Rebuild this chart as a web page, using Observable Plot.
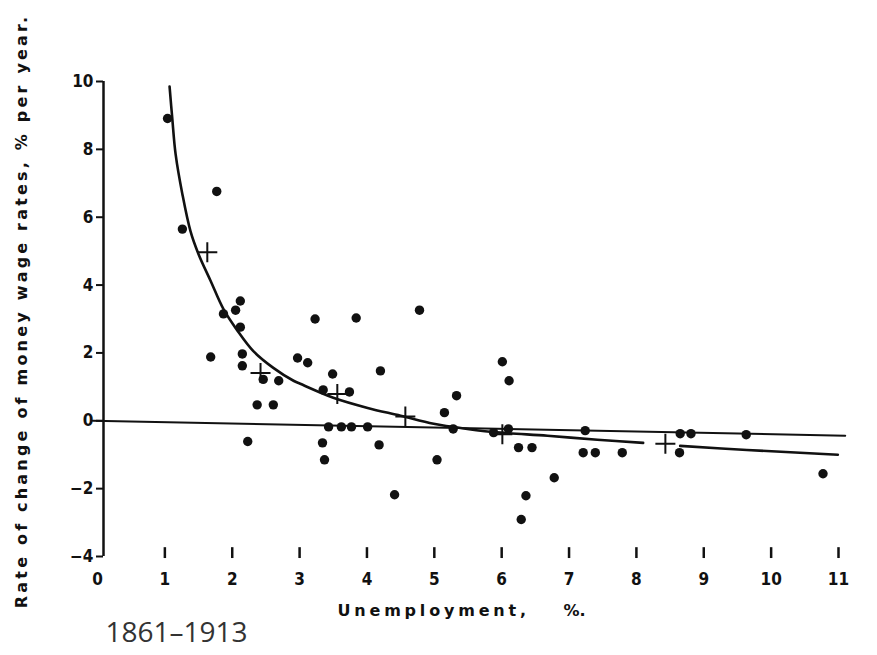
<!DOCTYPE html>
<html><head><meta charset="utf-8">
<script src="https://cdn.jsdelivr.net/npm/d3@7"></script>
<script src="https://cdn.jsdelivr.net/npm/@observablehq/plot@0.6"></script>
<style>body{margin:0;background:#fff}</style>
</head><body><div id="chart"></div>
<script>
// Annual observations, 1861–1913 (unemployment %, rate of change of money wage rates %)
const unemployment = [1.04,1.26,1.77,1.68,1.87,2.05,2.12,2.12,2.15,2.15,2.23,2.37,2.61,2.46,2.69,2.97,3.12,3.23,3.84,4.78,3.49,4.20,3.35,3.74,3.43,3.62,3.77,4.01,3.34,3.37,4.18,4.41,5.04,5.33,5.15,5.28,6.01,6.11,5.88,6.10,6.25,6.45,6.36,6.29,6.78,7.24,7.21,7.39,7.79,8.65,8.81,8.64,9.63,10.77];
const wageChange   = [8.91,5.65,6.76,1.88,3.15,3.26,3.53,2.76,1.97,1.62,-0.61,0.47,0.47,1.22,1.18,1.85,1.71,3.00,3.03,3.26,1.38,1.47,0.91,0.85,-0.18,-0.18,-0.18,-0.18,-0.65,-1.15,-0.71,-2.18,-1.15,0.74,0.24,-0.24,1.74,1.18,-0.35,-0.24,-0.79,-0.79,-2.21,-2.91,-1.68,-0.29,-0.94,-0.94,-0.94,-0.38,-0.38,-0.94,-0.41,-1.56];

// Group averages (crosses)
const crossX = [1.63,2.42,3.56,4.57,6.01,8.43];
const crossY = [4.97,1.41,0.79,0.13,-0.40,-0.68];

// Fitted curve (two drawn pieces)
const curveX   = [1.07,1.11,1.16,1.26,1.38,1.50,1.68,1.87,2.08,2.31,2.61,2.91,3.01,3.50,4.01,4.50,4.99,5.49,5.98,6.68,7.42,8.10, 8.65,9.64,10.99];
const curveY   = [9.85,8.91,7.85,6.68,5.59,4.91,4.12,3.29,2.65,2.06,1.56,1.18,1.09,0.68,0.38,0.15,-0.09,-0.24,-0.35,-0.44,-0.56,-0.65, -0.74,-0.86,-1.00];
const curveSeg = [1,1,1,1,1,1,1,1,1,1,1,1,1,1,1,1,1,1,1,1,1,1, 2,2,2];

// Zero line as drawn
const zeroX = [-0.07, 11.1];
const zeroY = [0, -0.44];

const xTicks = [0,1,2,3,4,5,6,7,8,9,10,11];
const xTickMarks = [1,2,3,4,5,6,7,8,9,10,11];
const yTicks = [-4,-2,0,2,4,6,8,10];

const yLabel = "Rate of change of money wage rates, % per year.";
const xLabel = "Unemployment,";
const xUnit = "%.";
const caption = "1861–1913";

const dots = unemployment.map((u, i) => ({u, w: wageChange[i]}));
const crosses = crossX.map((u, i) => ({u, w: crossY[i]}));
const curve = curveX.map((u, i) => ({u, w: curveY[i], s: curveSeg[i]}));
const zero = zeroX.map((u, i) => ({u, w: zeroY[i]}));

const plusSymbol = {
  draw(ctx, size) {
    const r = Math.sqrt(size / Math.PI);
    ctx.moveTo(-r, 0); ctx.lineTo(r, 0);
    ctx.moveTo(0, -r); ctx.lineTo(0, r);
  }
};

const ink = "#111";
const tickFont = "DejaVu Sans Condensed";

const chart = Plot.plot({
  width: 877,
  height: 655,
  marginLeft: 97,
  marginRight: 39,
  marginTop: 81,
  marginBottom: 99,
  x: {domain: [0, 11]},
  y: {domain: [-4, 10]},
  style: {background: "#fff", color: ink},
  marks: [
    Plot.axisY({ticks: yTicks, tickSize: 7, tickPadding: 3, dx: 6, fontSize: 17, fontFamily: tickFont, fontWeight: "bold", stroke: ink, strokeWidth: 2, label: null}),
    Plot.ruleX([0], {y1: -4, y2: 10, dx: 6, stroke: ink, strokeWidth: 2.5}),
    Plot.axisX({ticks: xTicks, tickSize: 0, tickPadding: 16, fontSize: 17, fontFamily: tickFont, fontWeight: "bold", label: null}),
    Plot.ruleX(xTickMarks, {y1: -3.74, y2: -4.06, stroke: ink, strokeWidth: 2.5}),
    Plot.line(zero, {x: "u", y: "w", stroke: ink, strokeWidth: 2}),
    Plot.line(curve, {x: "u", y: "w", z: "s", curve: "catmull-rom", stroke: ink, strokeWidth: 2.6}),
    Plot.dot(dots, {x: "u", y: "w", r: 4.7, fill: ink, stroke: "none"}),
    Plot.dot(crosses, {x: "u", y: "w", r: 10, symbol: plusSymbol, stroke: ink, fill: "none", strokeWidth: 2}),
    Plot.text([yLabel], {frameAnchor: "left", dx: -76, dy: -8, rotate: -90, textAnchor: "middle", lineAnchor: "middle", fontSize: 16, fontWeight: "bold", fontFamily: "DejaVu Sans", fill: ink}),
    Plot.text([xLabel], {frameAnchor: "bottom-left", dx: 240, dy: 54, textAnchor: "start", lineAnchor: "middle", fontSize: 16, fontWeight: "bold", fontFamily: "DejaVu Sans", fill: ink}),
    Plot.text([xUnit], {frameAnchor: "bottom-left", dx: 466, dy: 54, textAnchor: "start", lineAnchor: "middle", fontSize: 16, fontWeight: "bold", fontFamily: "DejaVu Sans", fill: ink}),
    Plot.text([caption], {frameAnchor: "bottom-left", dx: 8, dy: 77, textAnchor: "start", lineAnchor: "middle", fontSize: 28, fontFamily: "Open Sans", fill: "#333"})
  ]
});

d3.select(chart).selectAll("text").each(function() {
  const t = this.textContent;
  if (t === yLabel) this.style.letterSpacing = "3.2px";
  if (t === xLabel) this.style.letterSpacing = "3.8px";
});

document.getElementById("chart").append(chart);
</script>
</body></html>
